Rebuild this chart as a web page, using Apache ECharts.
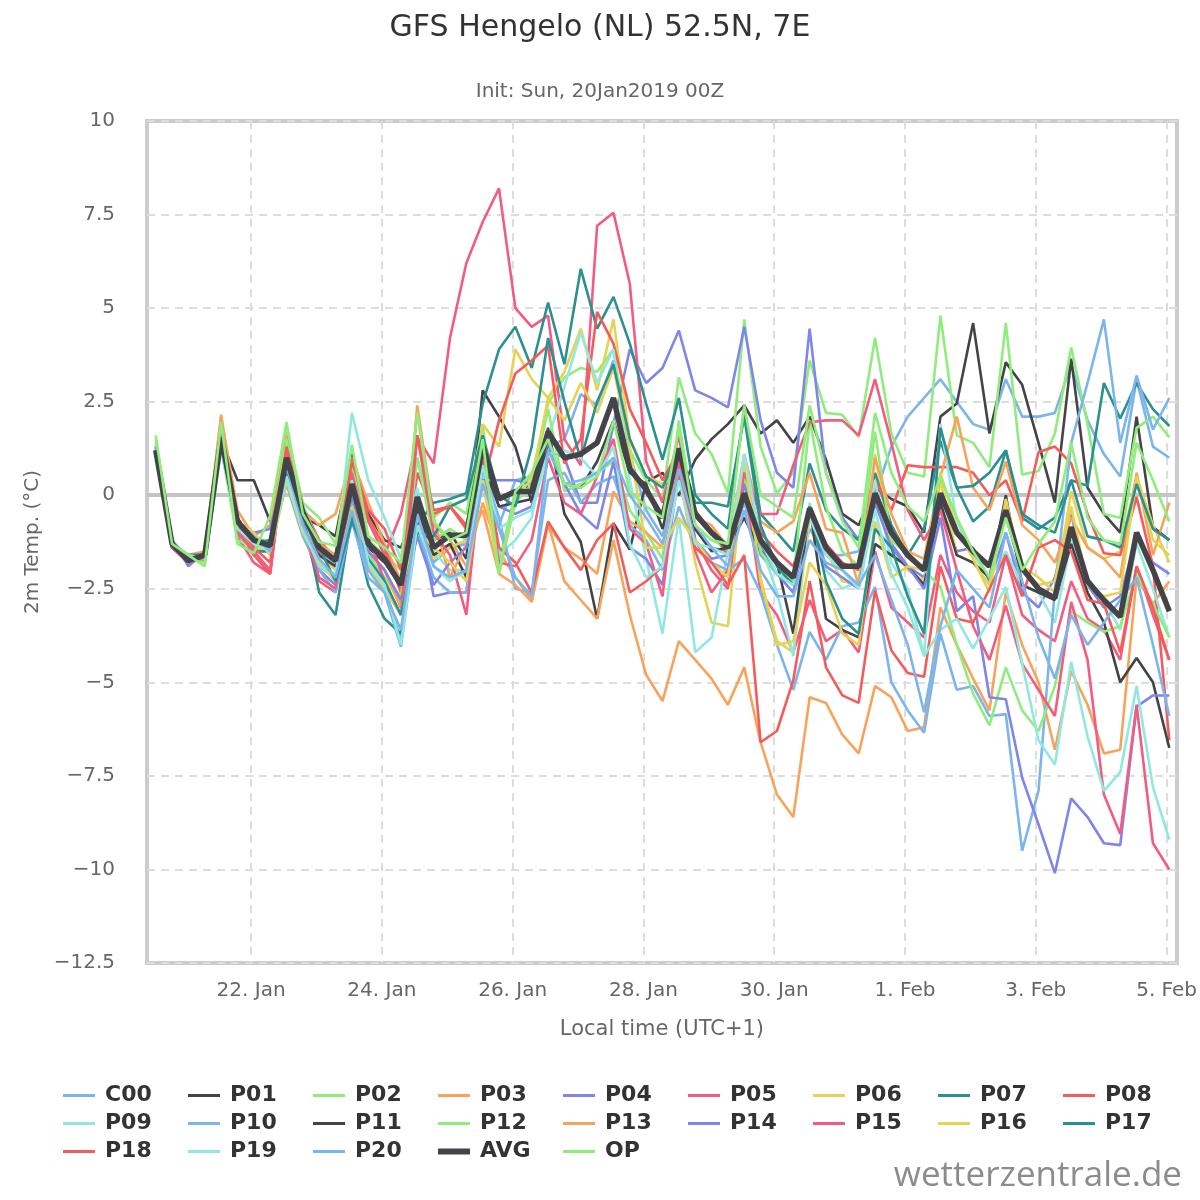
<!doctype html>
<html>
<head>
	<meta charset="UTF-8">
	<title>GFS Hengelo</title>
	<script src="https://cdn.jsdelivr.net/npm/echarts@6/dist/echarts.min.js"></script>
	<style>
		html, body { margin: 0; padding: 0; background: #fff; }
		#chart { width: 1200px; height: 1200px; }
	</style>
</head>
<body>
<div id="chart"></div>
<script>
	// hours after 22 Jan 00:00 local, first run step is +12h (20 Jan 13:00)
	var firstHour = -35;
	var stepHour = 6;
	var tickHours = [0, 48, 96, 144, 192, 240, 288, 336];
	var tickLabels = ['22. Jan', '24. Jan', '26. Jan', '28. Jan', '30. Jan', '1. Feb', '3. Feb', '5. Feb'];

	var names = ['C00', 'P01', 'P02', 'P03', 'P04', 'P05', 'P06', 'P07', 'P08', 'P09', 'P10', 'P11', 'P12', 'P13', 'P14', 'P15', 'P16', 'P17', 'P18', 'P19', 'P20', 'AVG', 'OP'];

	var C00 = [1.2,-1.3,-1.8,-1.5, 1.8,-0.9,-1.0,-1.6, 0.6,-0.8,-1.9,-2.2, -0.2,-1.8,-2.4,-3.9,
		0.1,-1.8,-1.4,-1.3, 0.6,-0.8,0.4,0.5, 1.3,1.5,2.7,2.4, 3.6,1.1,-0.4,-1.1,
		0.9,-0.9,-1.4,-1.5, -0.2,-1.6,-2.1,-2.4, -0.9,-1.6,-1.6,-1.5, 0.0,1.3,2.1,2.6,
		3.1,2.5,1.9,1.75, 3.1,2.1,2.1,2.2, 3.5,2.0,1.1,0.5, 3.1,1.3,1.0];
	var P01 = [1.3,-1.4,-1.7,-1.7, 1.5,0.4,0.4,-0.7, 0.6,-0.6,-0.8,-1.1, 1.1,-0.5,-1.2,-1.4,
		-0.3,-1.2,-1.0,-1.7, 2.8,2.1,1.3,-0.2, 1.8,-0.5,-1.25,-3.3, -0.75,-1.45,0.35,0.6,
		0.0,0.95,1.5,1.9, 2.4,1.65,2.0,1.4, 2.1,0.95,-0.5,-0.8, 0.2,-0.1,-0.3,-1.0,
		2.1,2.45,4.6,1.65, 3.55,2.95,1.4,-0.2, 3.65,0.2,-0.5,-1.0, 2.1,-0.85,-1.2];
	var P02 = [1.5,-1.3,-1.7,-1.8, 1.4,-1.2,-1.6,-1.2, 1.7,-0.2,-0.6,-1.3, 1.0,-1.2,-1.6,-2.0,
		1.0,-0.6,-0.2,-0.5, 1.9,-1.8,0.1,0.5, 2.45,3.15,3.4,3.3, 3.9,1.2,0.4,-0.1,
		3.15,1.65,1.1,0.05, 4.7,1.3,0.05,0.6, 3.6,2.2,2.15,1.55, 4.2,1.65,0.6,0.5,
		4.8,1.6,1.4,0.75, 4.6,0.55,0.65,1.65, 3.95,1.9,-0.5,-0.6, 1.8,2.1,1.55];
	var P03 = [1.2,-1.3,-1.6,-1.5, 2.1,-0.4,-1.1,-0.8, 1.6,-0.4,-0.8,-0.5, 1.0,-0.2,-1.3,-2.3,
		2.3,-0.8,-1.2,-1.9, -0.2,-1.5,-2.2,-2.8, -0.75,-2.3,-2.8,-3.3, -1.2,-3.2,-4.8,-5.5,
		-3.9,-4.4,-4.9,-5.6, -4.6,-6.6,-8.0,-8.6, -5.4,-5.55,-6.4,-6.9, -5.1,-5.4,-6.3,-6.2,
		-3.0,-4.0,-4.9,-5.75, -2.6,-4.0,-5.0,-6.8, -4.7,-5.6,-6.9,-6.8, -2.2,-2.9,-2.3];
	var P04 = [1.2,-1.2,-1.9,-1.5, 1.9,-0.8,-1.0,-0.9, 0.8,-0.7,-2.0,-2.4, -0.5,-1.5,-2.0,-3.0,
		-0.4,-2.7,-2.6,-2.6, 0.8,-0.3,-0.5,-0.3, 1.2,1.0,-0.2,-0.2, 1.9,3.9,3.0,3.4,
		4.4,2.8,2.6,2.35, 4.5,2.0,0.6,0.2, 4.45,0.6,-0.6,-1.2, 0.3,-1.3,-1.9,-2.2,
		-0.3,-1.5,-1.4,-2.3, -1.0,-2.6,-3.0,-2.2, -0.5,-2.4,-3.0,-2.7, -1.1,-1.8,-2.1];
	var P05 = [1.3,-1.4,-1.8,-1.6, 1.4,-1.1,-1.8,-2.1, 1.3,-0.9,-2.3,-2.6, 0.8,-0.7,-1.6,-0.5,
		1.55,0.85,4.2,6.2, 7.3,8.2,5.0,4.5, 4.8,1.5,0.8,7.2, 7.55,5.65,0.9,-0.2,
		1.6,-1.2,-2.0,-2.5, 0.4,-2.6,-3.2,-4.2, -2.8,-3.9,-3.6,-4.2, -1.5,-3.0,-3.4,-3.8,
		-1.6,-2.6,-3.1,-3.4, -1.6,-3.2,-3.6,-3.9, -2.3,-3.3,-3.6,-4.4, -1.9,-3.2,-4.4];
	var P06 = [1.3,-1.3,-1.7,-1.6, 1.5,-0.9,-1.4,-1.5, 0.6,-0.8,-1.6,-2.0, 0.0,-1.6,-2.2,-2.9,
		-0.6,-1.7,-1.4,-1.2, 1.9,1.3,3.9,3.1, 2.6,3.3,4.45,2.8, 4.7,1.5,0.5,0.3,
		0.6,-1.8,-3.4,-3.5, 0.9,-2.3,-3.9,-4.2, -0.6,-1.5,-2.3,-2.4, 1.1,-1.4,-2.0,-2.3,
		0.4,-1.6,-1.8,-2.4, -0.3,-1.9,-2.2,-2.6, 0.1,-1.4,-1.7,-1.5, 0.5,-0.8,-1.8];
	var P07 = [1.2,-1.3,-1.7,-1.6, 1.5,-1.0,-1.5,-1.5, 1.2,-0.5,-2.6,-3.2, -0.5,-2.4,-3.3,-3.7,
		-0.8,-0.2,-0.1,0.05, 2.45,3.9,4.5,3.4, 5.15,3.5,6.05,4.45, 5.3,4.05,2.45,0.95,
		2.6,0.0,-0.5,-0.9, 2.3,-0.5,-1.0,-1.5, 0.85,-0.4,-0.9,-1.2, 0.6,-0.8,-1.6,-0.9,
		1.45,0.2,-0.7,-0.3, 1.2,-0.6,-0.9,-0.6, 0.4,0.25,3.0,2.05, 3.0,2.3,1.85];
	var P08 = [1.2,-1.4,-1.8,-1.7, 1.7,-0.9,-1.6,-2.1, 1.5,-0.3,-1.2,-1.7, 1.0,-0.6,-1.4,-2.6,
		0.6,-0.5,-0.3,-0.9, 0.2,2.0,3.25,3.6, 4.0,0.85,1.5,4.9, 4.05,2.3,1.4,0.4,
		1.2,-0.4,-1.0,-1.6, 0.6,-1.0,-1.5,-1.9, -0.4,-1.3,-1.8,-2.0, 0.4,-0.4,0.8,0.75,
		0.75,0.75,0.6,0.0, 0.4,-0.7,1.15,1.3, 0.85,-0.5,-1.55,-1.6, -0.05,-1.9,-6.55];
	var P09 = [1.3,-1.3,-1.6,-1.6, 1.6,-0.8,-1.2,-1.2, 1.1,-0.3,-1.3,-1.8, 2.2,0.4,-0.6,-1.7,
		0.2,-1.5,-2.0,-2.0, 0.6,-1.6,-1.2,-0.6, 1.5,2.9,4.35,3.0, 3.9,0.4,-1.7,-3.7,
		-0.6,-4.2,-3.8,-1.5, 0.5,-1.3,-2.6,-4.3, -0.2,-2.0,-2.5,-2.3, 0.4,-1.8,-2.5,-4.3,
		1.9,-0.7,-1.6,-2.2, -1.5,-2.4,-2.6,-3.4, -1.2,-2.2,-2.8,-3.6, -1.3,-2.5,-3.8];
	var P10 = [1.2,-1.3,-1.7,-1.6, 1.5,-0.8,-1.2,-1.4, 0.3,-1.1,-2.0,-2.6, -0.7,-2.2,-2.6,-4.05,
		-0.9,-2.2,-2.6,-2.6, 0.7,-0.6,-2.5,-2.6, 0.4,0.6,-0.2,0.3, 0.5,-0.8,-1.2,-2.0,
		-0.3,-1.4,-1.8,-2.0, -1.7,-2.6,-4.0,-5.2, -3.65,-4.4,-3.5,-3.4, -2.45,-5.0,-5.75,-6.35,
		-3.7,-5.2,-5.1,-5.9, -5.85,-9.5,-7.9,-2.5, 1.4,3.0,4.7,1.4, 3.2,1.75,2.6];
	var P11 = [1.2,-1.4,-1.6,-1.6, 1.4,-0.6,-1.3,-1.3, 0.8,-0.5,-1.6,-1.9, 0.0,-1.4,-1.8,-2.4,
		-0.4,-1.6,-1.3,-2.2, 0.9,-0.3,-0.2,-0.1, 1.4,0.3,0.2,0.9, 2.0,0.6,0.3,-0.9,
		0.9,-0.9,-1.5,-1.4, -0.6,-1.5,-1.8,-3.7, -0.3,-3.3,-3.6,-3.8, -1.3,-1.6,-1.9,-2.4,
		-0.2,-1.6,-1.8,-2.2, 0.0,-2.4,-2.6,-2.8, -1.3,-2.6,-3.4,-5.0, -4.35,-5.0,-6.75];
	var P12 = [1.4,-1.2,-1.7,-1.8, 1.3,-1.2,-1.4,-1.3, 1.5,-0.6,-1.4,-1.6, 0.9,-1.6,-2.2,-2.7,
		1.0,-1.2,-0.9,-1.2, 1.2,-2.1,-0.2,0.3, 2.3,0.1,0.3,0.6, 0.9,-0.4,-1.0,-1.7,
		2.0,-0.8,-1.2,-1.4, 0.5,-1.5,-2.1,-2.3, 2.0,-0.3,-1.5,-1.9, 1.7,-1.2,-1.6,-2.0,
		-2.45,-4.0,-5.3,-6.15, -4.6,-5.75,-6.3,-5.1, -3.1,-3.4,-3.65,-3.5, -2.1,-2.9,-3.8];
	var P13 = [1.3,-1.3,-1.7,-1.7, 2.15,-0.7,-1.0,-1.6, 0.7,-0.6,-1.3,-1.6, 0.3,-1.5,-2.0,-3.0,
		2.4,-0.6,-2.2,-1.3, -0.4,-2.1,-2.4,-2.85, -0.8,-1.4,-1.7,-2.1, 0.1,-0.7,-1.0,-1.4,
		0.9,-0.6,-0.8,-1.4, 1.1,-0.7,-1.0,-0.7, 0.6,-0.9,-1.0,-2.4, 1.0,-0.5,-1.5,-1.7,
		0.5,2.1,0.2,-0.4, 0.9,-0.8,-1.2,-1.8, -0.6,-1.4,-1.7,-2.2, 0.6,-1.6,-0.2];
	var P14 = [1.2,-1.3,-1.8,-1.6, 1.7,-0.8,-1.1,-1.3, 0.9,-0.6,-1.5,-1.8, 0.0,-1.5,-2.0,-2.8,
		-1.1,-2.4,-1.8,-1.4, 0.4,0.4,0.4,0.3, 1.4,0.3,-0.5,-0.9, 0.9,-1.4,-1.7,-2.4,
		0.6,-1.2,-1.7,-1.6, 0.3,-1.3,-2.1,-2.6, -0.5,-1.9,-2.2,-2.5, -0.2,-1.4,-1.9,-2.5,
		-0.6,-3.1,-2.7,-5.4, -5.45,-7.55,-8.8,-10.1, -8.1,-8.6,-9.3,-9.35, -5.65,-5.35,-5.35];
	var P15 = [1.2,-1.4,-1.8,-1.6, 1.6,-1.0,-1.5,-2.0, 1.2,-0.8,-2.2,-2.5, 0.6,-1.1,-2.3,-3.2,
		1.6,-1.0,-1.6,-3.2, 1.0,-1.8,-1.9,-1.2, 1.0,-0.2,-0.5,0.5, 1.5,-0.9,-1.3,-2.7,
		1.0,-1.5,-2.6,-2.0, 0.6,-0.5,-0.5,0.8, 1.95,2.0,2.0,1.6, 3.1,1.4,-0.4,-1.2,
		-0.4,-2.0,-3.5,-4.4, -2.95,-4.5,-5.2,-5.9, -2.85,-4.4,-8.0,-9.05, -5.6,-9.3,-10.0];
	var P16 = [1.3,-1.3,-1.7,-1.6, 1.3,-0.7,-1.0,-1.6, 0.4,-1.0,-1.8,-2.3, -0.3,-1.9,-2.5,-3.2,
		-0.9,-1.4,-1.8,-2.3, 0.4,-2.1,0.0,0.4, 2.6,2.0,3.0,2.2, 3.4,1.3,-1.4,-1.4,
		-0.6,-1.2,-1.8,-2.2, 1.1,-2.2,-4.0,-3.9, -1.8,-2.4,-3.7,-4.0, -0.7,-2.2,-1.9,-2.0,
		0.6,-0.9,-1.7,-2.6, -0.1,-2.0,-2.4,-2.3, -0.3,-2.4,-2.7,-2.6, 0.5,-1.2,-1.6];
	var P17 = [1.2,-1.3,-1.6,-1.6, 1.4,-0.9,-1.3,-1.2, 0.6,-0.6,-1.4,-2.3, -0.7,-1.7,-2.3,-3.2,
		-1.0,-1.1,-0.3,-0.1, 1.6,0.0,-0.3,1.3, 4.2,2.5,0.95,2.5, 3.5,1.5,0.5,0.2,
		1.2,-0.2,-0.2,-0.3, 2.1,-0.8,-1.9,-2.4, -0.3,-2.3,-3.3,-3.7, -0.9,-1.4,-2.7,-3.7,
		1.8,0.2,0.25,0.6, 1.2,-0.5,-0.8,-1.0, 0.4,-1.1,-1.2,-1.4, 0.3,-0.9,-1.2];
	var P18 = [1.2,-1.3,-1.7,-1.7, 1.6,-0.8,-1.4,-1.8, 1.3,-0.4,-1.5,-1.7, 0.9,-0.4,-0.9,-2.0,
		1.6,-0.4,-0.3,-0.8, 1.1,-1.4,-1.8,-2.6, -0.7,-1.4,-2.0,-1.2, -0.75,-2.6,-2.3,-1.9,
		0.6,-1.4,-1.8,-2.4, -1.6,-6.6,-6.3,-4.95, -2.3,-4.6,-5.35,-5.55, -2.55,-4.15,-4.75,-4.85,
		-1.9,-3.3,-3.4,-2.5, -1.6,-2.7,-1.4,-1.2, -1.5,-2.8,-2.9,-4.2, -1.9,-3.0,-4.4];
	var P19 = [1.3,-1.3,-1.6,-1.7, 1.2,-0.9,-1.3,-1.5, 0.5,-0.9,-1.9,-2.1, 0.4,-1.8,-2.4,-4.0,
		-0.8,-1.9,-2.3,-2.0, 0.8,-0.9,-0.6,-0.4, 1.1,1.2,1.0,0.5, 1.3,-1.3,-2.2,-1.9,
		0.4,-1.3,-1.4,-1.6, 1.1,-1.2,-2.1,-2.4, -0.6,-1.6,-2.0,-2.5, -0.4,-2.1,-3.0,-4.3,
		-3.6,-3.3,-4.1,-3.3, -2.45,-4.5,-6.55,-7.2, -4.45,-6.45,-7.9,-7.4, -5.1,-7.8,-9.2];
	var P20 = [1.3,-1.2,-1.8,-1.6, 1.4,-0.7,-1.1,-1.5, 0.8,-0.8,-1.7,-2.2, -0.4,-2.0,-2.6,-3.6,
		-0.5,-1.9,-2.2,-2.0, 0.3,-0.9,-2.2,-2.7, 1.2,0.3,0.4,0.6, 1.0,0.0,-0.6,-1.3,
		0.7,-0.8,-1.4,-1.9, -0.4,-2.0,-2.7,-2.7, -1.2,-1.8,-2.0,-2.4, -1.6,-2.8,-4.0,-5.8,
		-3.5,-2.0,-2.5,-3.0, -1.0,-2.3,-3.8,-4.9, -3.2,-4.0,-3.4,-2.8, -2.2,-4.0,-5.9];
	var AVG = [1.2,-1.3,-1.75,-1.6, 1.55,-0.7,-1.2,-1.35, 1.0,-0.45,-1.4,-1.75, 0.3,-1.3,-1.7,-2.4,
		-0.05,-1.4,-1.07,-1.07, 1.3,-0.1,0.1,0.1, 1.7,1.0,1.1,1.4, 2.6,0.7,0.15,-0.6,
		1.25,-0.5,-1.0,-1.4, 0.05,-1.2,-1.8,-2.2, -0.35,-1.4,-1.9,-1.9, 0.05,-1.0,-1.6,-2.0,
		0.05,-1.0,-1.5,-1.9, -0.4,-1.95,-2.5,-2.75, -0.85,-2.3,-2.8,-3.25, -1.0,-2.0,-3.1];
	var OP = [1.6,-1.3,-1.6,-1.9, 1.95,-1.3,-1.55,-0.55, 1.95,-0.5,-1.25,-1.35, 1.35,-1.1,-1.4,-1.8,
		2.2,-0.7,-1.2,-1.0, 1.5,-2.1,0.1,0.6, 1.5,0.3,0.2,0.5, 2.0,0.1,-0.3,-0.6,
		1.8,-0.8,-1.2,-1.3, 2.4,0.0,-0.3,-0.6, 2.4,0.6,-0.7,-1.4, 2.2,0.6,-0.3,-0.7,
		0.5,-0.6,-1.5,-2.2, -0.6,-2.0,-1.3,-0.7, 1.4,-0.6,-1.2,-1.3, 1.4,0.4,-0.7];

	var runs = [C00, P01, P02, P03, P04, P05, P06, P07, P08, P09, P10, P11, P12, P13, P14, P15, P16, P17, P18, P19, P20, AVG, OP];
	var colors = ['#7cb5ec', '#434348', '#90ed7d', '#f7a35c', '#8085e9', '#f15c80', '#e4d354', '#2b908f', '#f45b5b', '#91e8e1',
		'#7cb5ec', '#434348', '#90ed7d', '#f7a35c', '#8085e9', '#f15c80', '#e4d354', '#2b908f', '#f45b5b', '#91e8e1',
		'#7cb5ec', '#434348', '#90ed7d'];

	var font = "'DejaVu Sans', Verdana, sans-serif";

	function minusSign(v) {
		return v < 0 ? '\u2212' + Math.abs(v) : String(v);
	}

	var series = runs.map(function (vals, k) {
		var s = {
			name: names[k],
			type: 'line',
			showSymbol: false,
			symbol: 'none',
			color: colors[k],
			lineStyle: { width: names[k] === 'AVG' ? 5.5 : 2.6, color: colors[k] },
			data: vals.map(function (v, i) { return [firstHour + stepHour * i, v]; })
		};
		if (k === 0) {
			// grey zero line
			s.markLine = {
				silent: true,
				symbol: 'none',
				label: { show: false },
				lineStyle: { color: '#c4c4c4', width: 4, type: 'solid' },
				data: [{ yAxis: 0 }],
				z: 1
			};
		}
		return s;
	});

	// legend keys as plain bars, the AVG one thicker
	var legendData = names.map(function (n) {
		return {
			name: n,
			icon: n === 'AVG' ? 'path://M0,0L32,0L32,6L0,6Z' : 'path://M0,0L32,0L32,3L0,3Z'
		};
	});

	var option = {
		animation: false,
		backgroundColor: '#fff',
		textStyle: { fontFamily: font },
		title: [{
			text: 'GFS Hengelo (NL) 52.5N, 7E',
			left: 'center',
			top: 8,
			textStyle: { fontSize: 30, fontWeight: 'normal', color: '#333', fontFamily: font }
		}, {
			text: 'Init: Sun, 20Jan2019 00Z',
			left: 'center',
			top: 77,
			textStyle: { fontSize: 20, fontWeight: 'normal', color: '#666', fontFamily: font }
		}],
		grid: {
			left: 147,
			right: 22,
			top: 121,
			bottom: 237,
			show: true,
			borderColor: '#cccccc',
			borderWidth: 4
		},
		xAxis: {
			type: 'value',
			min: -38.2,
			max: 339.8,
			name: 'Local time (UTC+1)',
			nameLocation: 'middle',
			nameGap: 56,
			nameTextStyle: { fontSize: 21, color: '#666', fontFamily: font },
			axisLine: { show: false },
			axisTick: { show: true, customValues: tickHours, length: 18, lineStyle: { color: '#ccd6eb', width: 2 } },
			axisLabel: {
				customValues: tickHours,
				fontSize: 20,
				color: '#666',
				margin: 18,
				fontFamily: font,
				formatter: function (v) { return tickLabels[tickHours.indexOf(v)] || ''; }
			},
			splitLine: { show: true, lineStyle: { color: '#dddddd', width: 2, type: [8, 6] } }
		},
		yAxis: {
			type: 'value',
			min: -12.5,
			max: 10,
			interval: 2.5,
			name: '2m Temp. (\u00b0C)',
			nameLocation: 'middle',
			nameGap: 100,
			nameTextStyle: { fontSize: 20, color: '#666', fontFamily: font },
			axisLine: { show: false },
			axisTick: { show: false },
			axisLabel: { fontSize: 20, color: '#666', margin: 32, fontFamily: font, formatter: minusSign },
			splitLine: { show: true, lineStyle: { color: '#dddddd', width: 2, type: [8, 6] } }
		},
		legend: {
			data: legendData,
			left: 58,
			top: 1079,
			width: 1140,
			itemWidth: 32,
			itemHeight: 14,
			itemGap: 5,
			textStyle: { fontSize: 22, fontWeight: 'bold', color: '#333', width: 78, lineHeight: 23, padding: [0, 0, 0, 5], fontFamily: font }
		},
		graphic: [{
			type: 'text',
			right: 18,
			bottom: 6,
			style: { text: 'wetterzentrale.de', fontSize: 35, fill: '#8c8c8c', fontFamily: "'Open Sans', sans-serif" }
		}],
		series: series
	};

	var chart = echarts.init(document.getElementById('chart'));
	chart.setOption(option);
</script>
</body>
</html>
